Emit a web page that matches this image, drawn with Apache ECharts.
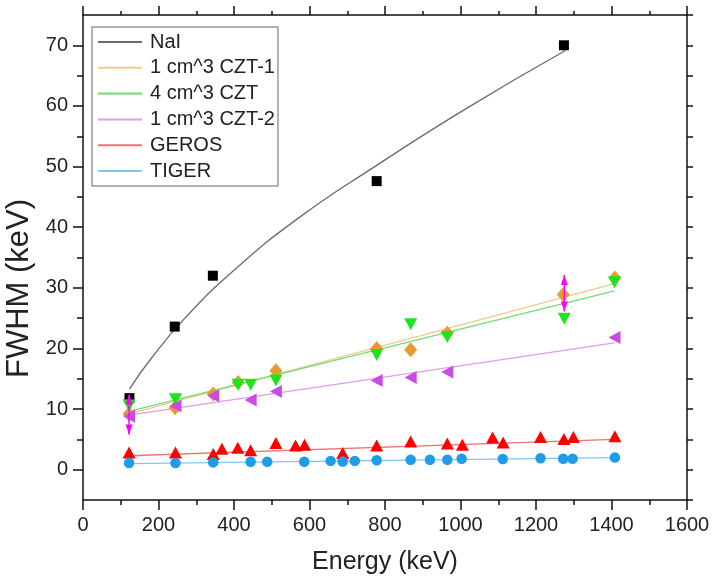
<!DOCTYPE html>
<html>
<head>
<meta charset="utf-8">
<title>FWHM vs Energy</title>
<script src="https://cdn.jsdelivr.net/npm/echarts@6/dist/echarts.min.js"></script>
<style>
  html, body { margin: 0; padding: 0; background: #fff; }
  #chart { width: 712px; height: 583px; }
</style>
</head>
<body>
<div id="chart"></div>
<script>
// ---- measured points (Energy in keV, FWHM in keV) ----
const nalEnergy = [123, 243, 344, 778, 1274];
const nalFwhm   = [11.8, 23.6, 32.0, 47.6, 70.0];
// NaI fitted curve, sampled along the drawn fit
const nalFitEnergy = [123, 180, 270, 400, 575, 778, 1016, 1277];
const nalFitFwhm   = [13.3, 18.3, 25.0, 32.9, 41.7, 50.2, 59.6, 69.1];

const czt1Energy = [122, 244, 345, 411, 511, 778, 868, 965, 1272, 1409];
const czt1Fwhm   = [9.2, 10.2, 12.5, 14.4, 16.3, 20.0, 19.8, 22.5, 28.9, 31.6];
const czt1FitEnergy = [122, 1408];
const czt1FitFwhm   = [9.2, 30.7];

const czt4Energy = [122, 245, 411, 444, 511, 778, 868, 965, 1275, 1408];
const czt4Fwhm   = [10.6, 11.6, 14.0, 14.0, 14.7, 18.9, 24.0, 21.9, 24.9, 30.9];
const czt4FitEnergy = [122, 1408];
const czt4FitFwhm   = [9.6, 29.5];

const czt2Energy = [122, 245, 345, 444, 511, 778, 868, 965, 1408];
const czt2Fwhm   = [8.8, 10.5, 12.2, 11.5, 12.9, 14.7, 15.2, 16.1, 21.8];
const czt2FitEnergy = [122, 1408];
const czt2FitFwhm   = [9.0, 20.9];
// uncertainty ranges drawn as arrows: energy, low, high
const czt2ErrEnergy = [122, 1275];
const czt2ErrLow    = [5.8, 26.1];
const czt2ErrHigh   = [12.4, 32.1];

const gerosEnergy = [122, 245, 345, 368, 410, 444, 511, 563, 587, 688, 778, 868, 965, 1005, 1085, 1113, 1212, 1274, 1299, 1409];
const gerosFwhm   = [2.85, 2.85, 2.6, 3.45, 3.6, 3.2, 4.4, 4.0, 4.1, 2.75, 4.0, 4.66, 4.3, 4.1, 5.3, 4.5, 5.4, 5.05, 5.4, 5.5];
const gerosFitEnergy = [122, 1408];
const gerosFitFwhm   = [2.3, 5.0];

const tigerEnergy = [122, 245, 345, 444, 488, 586, 656, 688, 720, 778, 868, 919, 965, 1003, 1112, 1212, 1272, 1297, 1409];
const tigerFwhm   = [1.1, 1.1, 1.2, 1.3, 1.3, 1.3, 1.45, 1.35, 1.45, 1.55, 1.65, 1.65, 1.65, 1.8, 1.75, 1.9, 1.8, 1.8, 2.0];
const tigerFitEnergy = [122, 1408];
const tigerFitFwhm   = [1.0, 2.0];

// axis ticks
const yTickValues  = [0, 10, 20, 30, 40, 50, 60, 70];
const yMinorValues = [5, 15, 25, 35, 45, 55, 65];

const FONT = "'Liberation Sans', Arial, sans-serif";
const zip = (xs, ys) => xs.map((x, i) => [x, ys[i]]);

function fitLine(name, xs, ys, color, smooth) {
  return {
    name, type: 'line', data: zip(xs, ys), smooth: smooth ? 0.5 : false,
    symbol: 'none', z: 2, silent: true,
    lineStyle: { color, width: 1.3 },
    itemStyle: { color }
  };
}
function points(name, xs, ys, symbol, size, rotate, color) {
  return {
    name, type: 'scatter', data: zip(xs, ys), symbol, symbolSize: size,
    symbolRotate: rotate, z: 4, itemStyle: { color, opacity: 1 }
  };
}

const axisLineStyle = { color: '#111', width: 1.5 };
const lineNoZero = { show: true, onZero: false, lineStyle: axisLineStyle };

const chart = echarts.init(document.getElementById('chart'), null, { renderer: 'canvas' });
chart.setOption({
  animation: false,
  backgroundColor: '#fff',
  textStyle: { fontFamily: FONT },
  grid: { left: 83, right: 25, top: 15, bottom: 83, containLabel: false, outerBoundsMode: 'none' },
  legend: {
    orient: 'vertical', left: 92, top: 27,
    data: ['NaI', '1 cm^3 CZT-1', '4 cm^3 CZT', '1 cm^3 CZT-2', 'GEROS', 'TIGER'],
    itemWidth: 44, itemHeight: 2, itemGap: 5.8,
    padding: [5, 3, 5, 5],
    borderColor: '#999', borderWidth: 1.5, backgroundColor: '#fff',
    textStyle: { fontSize: 20, lineHeight: 20, color: '#222', fontFamily: FONT, padding: [0, 0, 0, 3] }
  },
  xAxis: [
    {
      type: 'value', position: 'bottom', min: 0, max: 1600, interval: 200,
      axisLine: lineNoZero,
      axisTick: { show: true, length: 10, lineStyle: axisLineStyle },
      minorTick: { show: true, splitNumber: 2, length: 5, lineStyle: axisLineStyle },
      splitLine: { show: false }, minorSplitLine: { show: false },
      axisLabel: { fontSize: 20, color: '#222', margin: 15, fontFamily: FONT, formatter: v => String(v) },
      name: 'Energy (keV)', nameLocation: 'middle', nameGap: 50,
      nameTextStyle: { fontSize: 25, color: '#222', fontFamily: FONT }
    },
    {
      type: 'value', position: 'top', min: 0, max: 1600, interval: 200,
      axisLine: lineNoZero,
      axisTick: { show: true, length: 9, lineStyle: axisLineStyle },
      minorTick: { show: true, splitNumber: 2, length: 4, lineStyle: axisLineStyle },
      splitLine: { show: false }, axisLabel: { show: false }
    }
  ],
  yAxis: [
    {
      type: 'value', position: 'left', min: -5, max: 75,
      axisLine: lineNoZero,
      axisTick: { show: true, length: 10, lineStyle: axisLineStyle, customValues: yTickValues },
      axisLabel: { fontSize: 20, color: '#222', margin: 15, fontFamily: FONT, customValues: yTickValues },
      splitLine: { show: false },
      name: 'FWHM (keV)', nameLocation: 'middle', nameGap: 45, nameRotate: 90,
      nameTextStyle: { fontSize: 31, color: '#222', fontFamily: FONT, padding: [0, 62, 0, 0] }
    },
    {
      type: 'value', position: 'left', min: -5, max: 75,
      axisLine: { show: false, onZero: false },
      axisTick: { show: true, length: 6, lineStyle: axisLineStyle, customValues: yMinorValues },
      axisLabel: { show: false }, splitLine: { show: false }
    },
    {
      type: 'value', position: 'right', min: -5, max: 75, interval: 5,
      axisLine: lineNoZero,
      axisTick: { show: true, length: 6, lineStyle: axisLineStyle },
      axisLabel: { show: false }, splitLine: { show: false }
    }
  ],
  series: [
    fitLine('NaI', nalFitEnergy, nalFitFwhm, '#6a6a6a', true),
    fitLine('1 cm^3 CZT-1', czt1FitEnergy, czt1FitFwhm, '#f4c88e'),
    fitLine('4 cm^3 CZT', czt4FitEnergy, czt4FitFwhm, '#72dc72'),
    fitLine('1 cm^3 CZT-2', czt2FitEnergy, czt2FitFwhm, '#e29cf0'),
    fitLine('GEROS', gerosFitEnergy, gerosFitFwhm, '#f27474'),
    fitLine('TIGER', tigerFitEnergy, tigerFitFwhm, '#80c6ee'),

    points('NaI', nalEnergy, nalFwhm, 'rect', 10, 0, '#000000'),
    points('1 cm^3 CZT-1', czt1Energy, czt1Fwhm, 'diamond', [13, 15], 0, '#e59c32'),
    points('4 cm^3 CZT', czt4Energy, czt4Fwhm, 'triangle', [13, 12], 180, '#1ee41e'),
    points('1 cm^3 CZT-2', czt2Energy, czt2Fwhm, 'triangle', [13, 12], 90, '#c94be6'),
    points('GEROS', gerosEnergy, gerosFwhm, 'triangle', [13, 12], 0, '#ff0000'),
    points('TIGER', tigerEnergy, tigerFwhm, 'circle', 10.5, 0, '#1e9be9'),

    {
      name: '1 cm^3 CZT-2', type: 'custom', z: 5,
      data: czt2ErrEnergy.map((e, i) => [e, czt2ErrLow[i], czt2ErrHigh[i]]),
      renderItem(params, api) {
        const lo = api.coord([api.value(0), api.value(1)]);
        const hi = api.coord([api.value(0), api.value(2)]);
        const c = '#ff00ff';
        return {
          type: 'group',
          children: [
            { type: 'line', shape: { x1: lo[0], y1: lo[1], x2: hi[0], y2: hi[1] }, style: { stroke: c, lineWidth: 1.5 } },
            { type: 'polygon', shape: { points: [[hi[0], hi[1]], [hi[0] - 3.5, hi[1] + 10], [hi[0] + 3.5, hi[1] + 10]] }, style: { fill: c } },
            { type: 'polygon', shape: { points: [[lo[0], lo[1]], [lo[0] - 3.5, lo[1] - 10], [lo[0] + 3.5, lo[1] - 10]] }, style: { fill: c } }
          ]
        };
      }
    }
  ]
});
</script>
</body>
</html>
